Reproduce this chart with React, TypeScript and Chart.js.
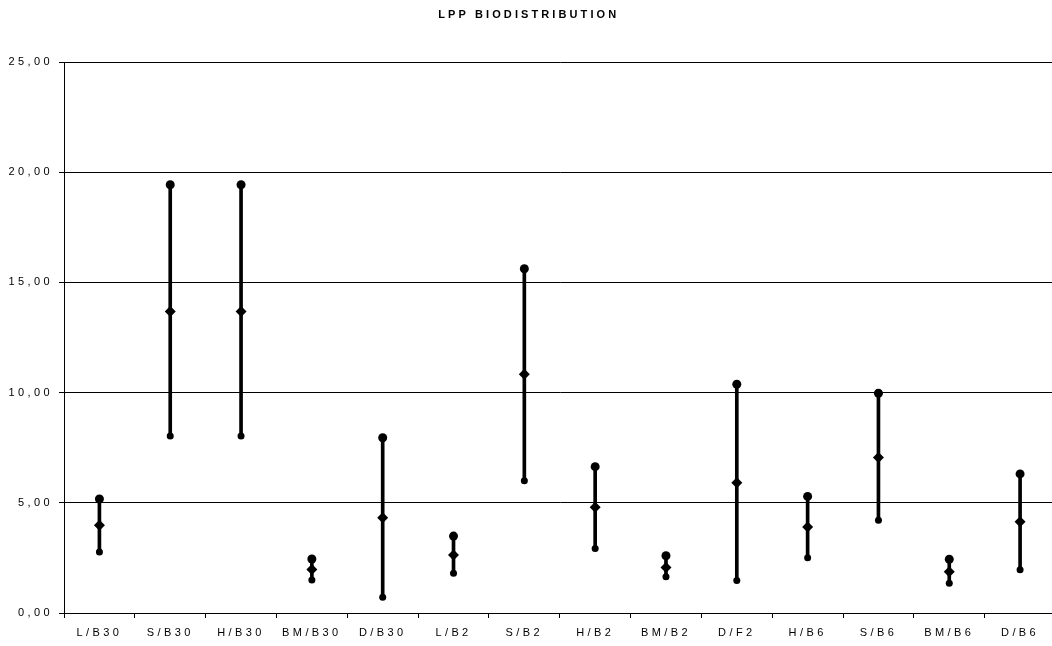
import React, { useEffect, useRef } from "react";
import { Chart, registerables } from "chart.js";

Chart.register(...registerables);

const categories = ["L/B30", "S/B30", "H/B30", "BM/B30", "D/B30", "L/B2", "S/B2", "H/B2", "BM/B2", "D/F2", "H/B6", "S/B6", "BM/B6", "D/B6"];
const highValues = [5.17, 19.43, 19.43, 2.45, 7.95, 3.49, 15.62, 6.64, 2.6, 10.38, 5.29, 9.97, 2.44, 6.31];
const meanValues = [3.98, 13.68, 13.68, 1.97, 4.32, 2.63, 10.83, 4.8, 2.07, 5.91, 3.9, 7.05, 1.87, 4.14];
const lowValues = [2.77, 8.03, 8.03, 1.5, 0.71, 1.8, 6.0, 2.93, 1.65, 1.47, 2.51, 4.21, 1.35, 1.96];
const yTicks = [0, 5, 10, 15, 20, 25];
const titleText = "LPP BIODISTRIBUTION";

const FONT = "'Liberation Sans', Arial, sans-serif";

const spacingPlugin = {
  id: "spacing",
  beforeDraw(chart: any) {
    chart.ctx.letterSpacing = "3.4px";
  },
  afterDraw(chart: any) {
    const ctx = chart.ctx;
    ctx.save();
    ctx.letterSpacing = "3.1px";
    ctx.font = `bold 11px ${FONT}`;
    ctx.fillStyle = "#000";
    ctx.textAlign = "center";
    ctx.textBaseline = "middle";
    ctx.fillText(titleText, 528.7, 15);
    ctx.restore();
  },
};

export default function App() {
  const ref = useRef<HTMLCanvasElement>(null);
  useEffect(() => {
    const canvas = ref.current!;
    const chart = new Chart(canvas, {
      type: "bar",
      data: {
        labels: categories,
        datasets: [
          {
            type: "line",
            data: highValues,
            showLine: false,
            pointStyle: "circle",
            pointRadius: 4.5,
            pointBackgroundColor: "#000",
            pointBorderColor: "#000",
            pointBorderWidth: 0,
            order: 1,
          } as any,
          {
            type: "line",
            data: meanValues,
            showLine: false,
            pointStyle: "rectRot",
            pointRadius: 5.5,
            pointBackgroundColor: "#000",
            pointBorderColor: "#000",
            pointBorderWidth: 0,
            order: 1,
          } as any,
          {
            type: "line",
            data: lowValues,
            showLine: false,
            pointStyle: "circle",
            pointRadius: 3.5,
            pointBackgroundColor: "#000",
            pointBorderColor: "#000",
            pointBorderWidth: 0,
            order: 1,
          } as any,
          {
            type: "bar",
            data: lowValues.map((l, i) => [l, highValues[i]]),
            backgroundColor: "#000",
            borderWidth: 0,
            barThickness: 3,
            order: 2,
          } as any,
        ],
      },
      options: {
        responsive: false,
        animation: false,
        events: [],
        layout: { padding: { top: 62, right: 1, bottom: 0, left: 0 } },
        plugins: {
          legend: { display: false },
          tooltip: { enabled: false },
          title: { display: false },
        },
        scales: {
          x: {
            type: "category",
            offset: true,
            afterFit(scale: any) {
              scale.height = 33;
            },
            grid: {
              offset: true,
              drawOnChartArea: false,
              drawTicks: true,
              tickLength: 5,
              color: "#000",
              lineWidth: 1,
            },
            border: { display: true, color: "#000", width: 1 },
            ticks: {
              color: "#000",
              font: { family: FONT, size: 11 },
              padding: 8,
              maxRotation: 0,
              autoSkip: false,
            },
          },
          y: {
            min: 0,
            max: 25,
            afterFit(scale: any) {
              scale.width = 64;
            },
            afterBuildTicks(scale: any) {
              scale.ticks = yTicks.map((v) => ({ value: v }));
            },
            grid: {
              drawOnChartArea: true,
              drawTicks: true,
              tickLength: 5,
              color: "#000",
              lineWidth: 1,
            },
            border: { display: true, color: "#000", width: 1 },
            ticks: {
              color: "#000",
              font: { family: FONT, size: 11 },
              padding: 6,
              callback: (v: any) => Number(v).toFixed(2).replace(".", ","),
            },
          },
        },
      },
      plugins: [spacingPlugin],
    });
    return () => chart.destroy();
  }, []);
  return (
    <div style={{ position: "fixed", left: 0, top: 0, width: 1052, height: 646, overflow: "hidden", background: "#fff" }}>
      <canvas ref={ref} width={1061} height={646} style={{ width: 1061, height: 646, display: "block" }} />
    </div>
  );
}
